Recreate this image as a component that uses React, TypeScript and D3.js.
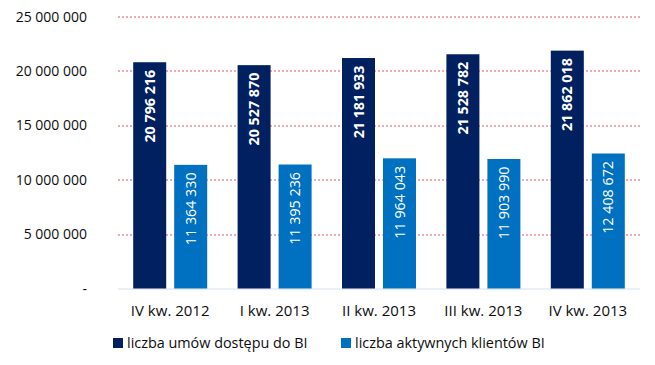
import * as d3 from 'd3';
import { useEffect, useRef } from 'react';

const categories = ['IV kw. 2012', 'I kw. 2013', 'II kw. 2013', 'III kw. 2013', 'IV kw. 2013'];
const umowy = [20796216, 20527870, 21181933, 21528782, 21862018];
const aktywni = [11364330, 11395236, 11964043, 11903990, 12408672];
const yTicks = [0, 5000000, 10000000, 15000000, 20000000, 25000000];
const seriesNames = ['liczba umów dostępu do BI', 'liczba aktywnych klientów BI'];
const seriesColors = ['#002060', '#0070c0'];

const W = 655;
const H = 365;
const FONT = '"Open Sans", sans-serif';

const fmt = (v: number) => (v === 0 ? '-' : d3.format(',')(v).replace(/,/g, ' '));

const App = () => {
  const ref = useRef<SVGSVGElement | null>(null);

  useEffect(() => {
    document.body.style.margin = '0';
    const svg = d3.select(ref.current);
    svg.selectAll('*').remove();

    const margin = { top: 16.5, left: 118, right: 15, bottom: 76.5 };
    const bw = W - margin.left - margin.right;
    const bh = H - margin.top - margin.bottom;

    const x = d3.scaleBand().domain(categories).range([0, bw]);
    const y = d3.scaleLinear().domain([0, 25000000]).range([bh, 0]);

    const g = svg.append('g').attr('transform', `translate(${margin.left},${margin.top})`);

    // grid
    g.selectAll('.grid')
      .data(yTicks.filter((t) => t > 0))
      .enter()
      .append('line')
      .attr('x1', 0)
      .attr('x2', bw)
      .attr('y1', (d) => Math.round(y(d)) + 0.5)
      .attr('y2', (d) => Math.round(y(d)) + 0.5)
      .style('stroke', '#e8505f')
      .style('stroke-width', 1)
      .style('stroke-dasharray', '2,2');

    g.append('line')
      .attr('x1', 0)
      .attr('x2', bw)
      .attr('y1', bh + 0.5)
      .attr('y2', bh + 0.5)
      .style('stroke', '#d6dfec')
      .style('stroke-width', 1);

    // y labels
    g.selectAll('.ylab')
      .data(yTicks)
      .enter()
      .append('text')
      .attr('x', 87 - margin.left)
      .attr('y', (d) => y(d))
      .attr('dy', '0.36em')
      .attr('text-anchor', 'end')
      .style('font-family', FONT)
      .style('font-size', '14px')
      .style('fill', '#0d0d0d')
      .text((d) => fmt(d));

    const barW = 33;
    const gap = 8;
    const series = [umowy, aktywni];

    series.forEach((vals, si) => {
      const off = (x.bandwidth() - (2 * barW + gap)) / 2 + si * (barW + gap);
      const bars = g
        .selectAll(`.bar-${si}`)
        .data(vals)
        .enter()
        .append('g');

      bars
        .append('rect')
        .attr('x', (d, i) => (x(categories[i]) as number) + off)
        .attr('y', (d) => y(d))
        .attr('width', barW)
        .attr('height', (d) => bh - y(d))
        .style('fill', seriesColors[si]);

      bars
        .append('text')
        .attr('transform', (d, i) => {
          const cx = (x(categories[i]) as number) + off + barW / 2;
          return `translate(${cx},${y(d) + 7.5}) rotate(-90)`;
        })
        .attr('text-anchor', 'end')
        .attr('dy', '0.36em')
        .style('font-family', FONT)
        .style('font-size', '14.3px')
        .style('font-weight', si === 0 ? 700 : 400)
        .style('fill', '#ffffff')
        .text((d) => fmt(d));
    });

    // x labels
    g.selectAll('.xlab')
      .data(categories)
      .enter()
      .append('text')
      .attr('x', (d) => (x(d) as number) + x.bandwidth() / 2)
      .attr('y', 316 - margin.top)
      .attr('text-anchor', 'middle')
      .style('font-family', FONT)
      .style('font-size', '15px')
      .style('fill', '#0d0d0d')
      .text((d) => d);

    // legend
    const legX = [113, 341];
    seriesNames.forEach((name, i) => {
      svg
        .append('rect')
        .attr('x', legX[i])
        .attr('y', 338)
        .attr('width', 10)
        .attr('height', 10)
        .style('fill', seriesColors[i]);
      svg
        .append('text')
        .attr('x', legX[i] + 14)
        .attr('y', 347.5)
        .style('font-family', FONT)
        .style('font-size', '14.4px')
        .style('fill', '#0d0d0d')
        .text(name);
    });
  }, []);

  return <svg ref={ref} width={W} height={H} style={{ display: 'block', background: '#fff' }} />;
};

export default App;
